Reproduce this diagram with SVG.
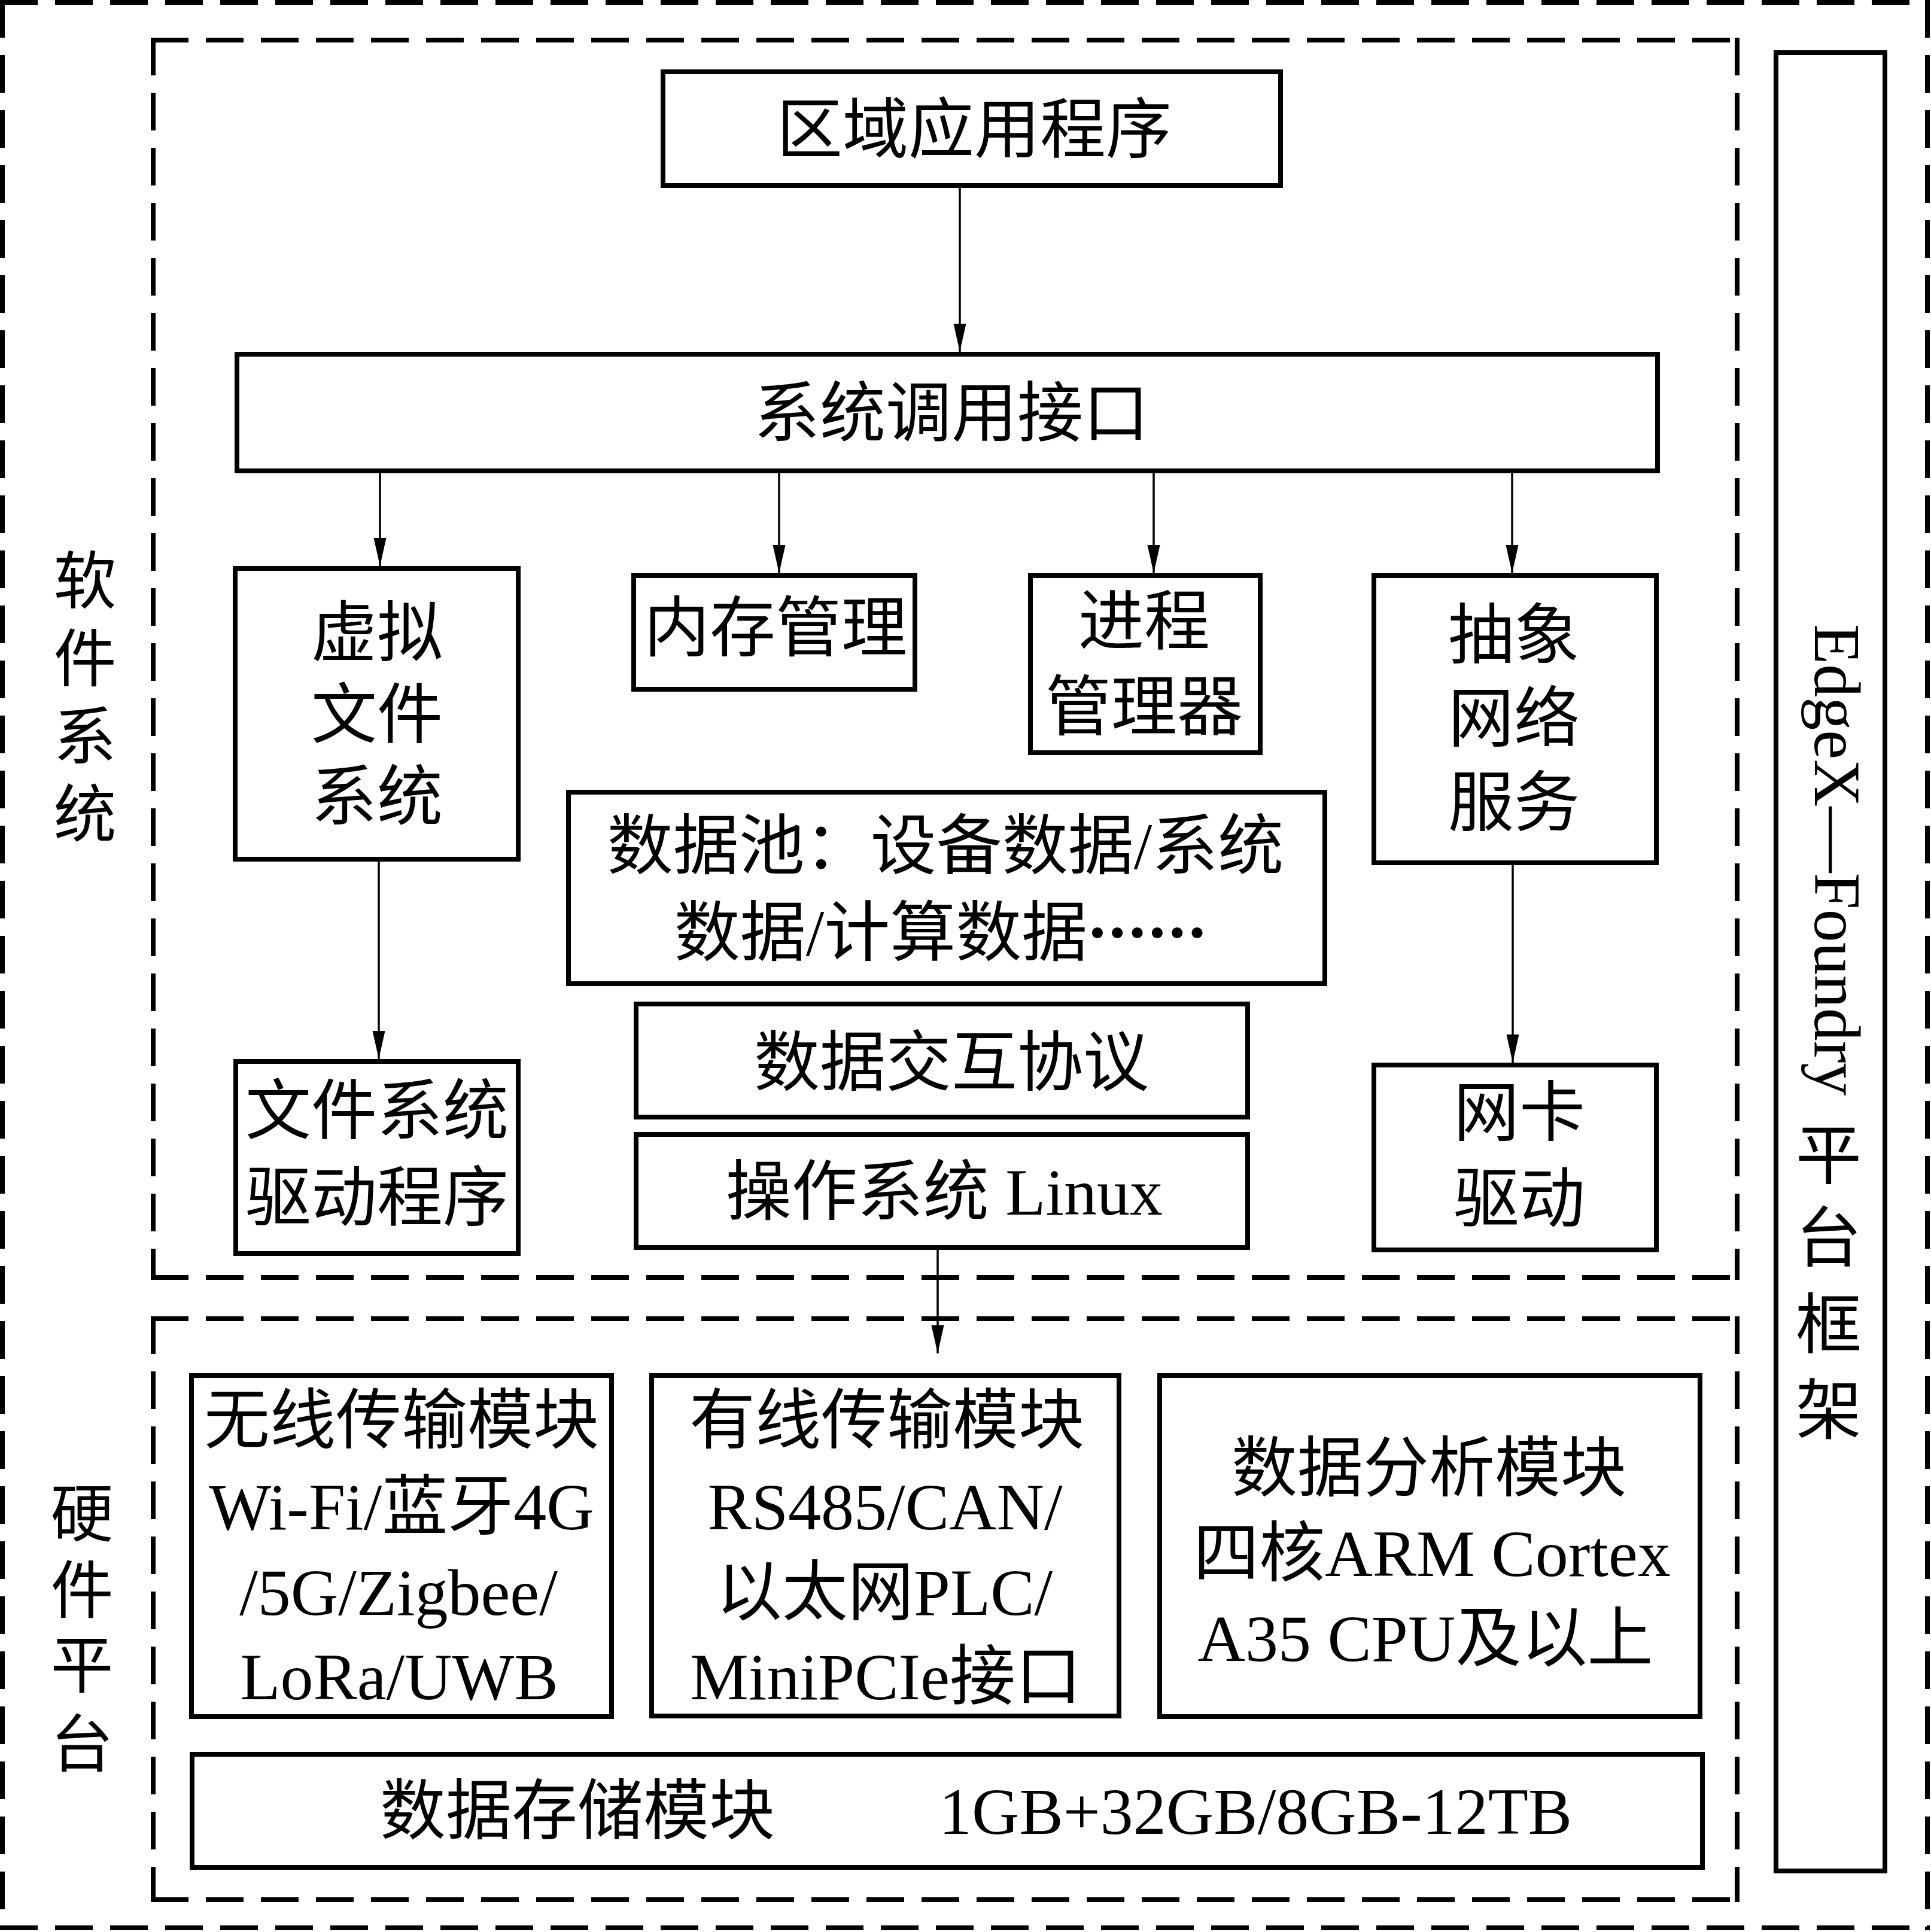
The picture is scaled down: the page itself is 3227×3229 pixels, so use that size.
<svg xmlns="http://www.w3.org/2000/svg" width="3227" height="3229" viewBox="0 0 3227 3229">
<defs>
<style>
.box{fill:none;stroke:#000;stroke-width:8}
.dash{fill:none;stroke:#000;stroke-width:8;stroke-dasharray:63 29;stroke-linecap:butt}
.conn{fill:none;stroke:#000;stroke-width:3.5;marker-end:url(#arr)}
.t{font-family:"Liberation Serif","Noto Sans CJK SC",serif;font-size:110px;text-anchor:middle;fill:#000}
.side{font-size:105px}
.cjk{font-family:"Noto Sans CJK SC",sans-serif;font-weight:900}
</style>
<marker id="arr" markerUnits="userSpaceOnUse" markerWidth="48" markerHeight="22" refX="47" refY="10.5" orient="auto">
<path d="M0,0 L47,10.5 L0,21 Z" fill="#000"/>
</marker>
</defs>
<rect width="3227" height="3229" fill="#fff"/>

<g id="frames">
<g id="outer">
<line class="dash" x1="0" y1="4" x2="3225" y2="4"/>
<line class="dash" x1="0" y1="3222" x2="3225" y2="3222"/>
<line class="dash" x1="4" y1="0" x2="4" y2="3226"/>
<line class="dash" x1="3221" y1="0" x2="3221" y2="3226"/>
</g>
<g id="software-frame">
<line class="dash" x1="252" y1="67" x2="2907" y2="67"/>
<line class="dash" x1="252" y1="2135" x2="2907" y2="2135"/>
<line class="dash" x1="256" y1="63" x2="256" y2="2139"/>
<line class="dash" x1="2903" y1="63" x2="2903" y2="2139"/>
</g>
<g id="hardware-frame">
<line class="dash" x1="252" y1="2204" x2="2907" y2="2204"/>
<line class="dash" x1="252" y1="3175" x2="2907" y2="3175"/>
<line class="dash" x1="256" y1="2200" x2="256" y2="3179"/>
<line class="dash" x1="2903" y1="2200" x2="2903" y2="3179"/>
</g>
</g>

<g id="label-software">
<text class="t side" x="142" y="1008">软</text>
<text class="t side" x="142" y="1138">件</text>
<text class="t side" x="142" y="1268">系</text>
<text class="t side" x="142" y="1398">统</text>
</g>
<g id="label-hardware">
<text class="t side" x="137" y="2567">硬</text>
<text class="t side" x="137" y="2695">件</text>
<text class="t side" x="137" y="2820">平</text>
<text class="t side" x="137" y="2952">台</text>
</g>

<g id="edgex">
<rect class="box" x="2968" y="88" width="182" height="3039"/>
<text class="t" style="text-anchor:start" font-size="112" transform="translate(3033,1043) rotate(90)">EdgeX—Foundry</text>
<text class="t" x="3056" y="1970">平</text>
<text class="t" x="3056" y="2108">台</text>
<text class="t" x="3056" y="2253">框</text>
<text class="t" x="3056" y="2396">架</text>
</g>

<g id="app">
<rect class="box" x="1108" y="120" width="1032" height="190"/>
<text class="t" x="1628" y="255">区域应用程序</text>
</g>
<g id="syscall">
<rect class="box" x="396" y="592" width="2374" height="195"/>
<text class="t" x="1590" y="729">系统调用接口</text>
</g>
<g id="vfs">
<rect class="box" x="393" y="950" width="473" height="486"/>
<text class="t" x="630" y="1096">虚拟</text>
<text class="t" x="630" y="1233">文件</text>
<text class="t" x="630" y="1370">系统</text>
</g>
<g id="mem">
<rect class="box" x="1059" y="962" width="470" height="190"/>
<text class="t" x="1296" y="1088">内存管理</text>
</g>
<g id="proc">
<rect class="box" x="1722" y="962" width="384" height="296"/>
<text class="t" x="1912" y="1077">进程</text>
<text class="t" x="1912" y="1220">管理器</text>
</g>
<g id="net">
<rect class="box" x="2296" y="962" width="472" height="480"/>
<text class="t" x="2530" y="1100">抽象</text>
<text class="t" x="2530" y="1239">网络</text>
<text class="t" x="2530" y="1380">服务</text>
</g>
<g id="datapool">
<rect class="box" x="950" y="1324" width="1264" height="320"/>
<text class="t" x="1580" y="1452">数据池：设备数据/系统</text>
<text class="t" x="1572" y="1597">数据/计算数据<tspan class="cjk" font-size="100">……</tspan></text>
</g>
<g id="protocol">
<rect class="box" x="1063" y="1678" width="1022" height="189"/>
<text class="t" x="1590" y="1814">数据交互协议</text>
</g>
<g id="os">
<rect class="box" x="1063" y="1896" width="1022" height="189"/>
<text class="t" x="1578" y="2030">操作系统 Linux</text>
</g>
<g id="fsdriver">
<rect class="box" x="394" y="1774" width="472" height="321"/>
<text class="t" x="630" y="1895">文件系统</text>
<text class="t" x="630" y="2040">驱动程序</text>
</g>
<g id="nicdriver">
<rect class="box" x="2296" y="1780" width="472" height="309"/>
<text class="t" x="2539" y="1898">网卡</text>
<text class="t" x="2539" y="2042">驱动</text>
</g>

<g id="wireless">
<rect class="box" x="320" y="2299" width="702" height="570"/>
<text class="t" x="671" y="2412">无线传输模块</text>
<text class="t" x="671" y="2556">Wi-Fi/蓝牙4G</text>
<text class="t" x="666" y="2699">/5G/Zigbee/</text>
<text class="t" x="667" y="2840">LoRa/UWB</text>
</g>
<g id="wired">
<rect class="box" x="1089" y="2299" width="781" height="569"/>
<text class="t" x="1482" y="2412">有线传输模块</text>
<text class="t" x="1479" y="2556">RS485/CAN/</text>
<text class="t" x="1478" y="2699">以太网PLC/</text>
<text class="t" x="1480" y="2840">MiniPCIe接口</text>
</g>
<g id="analysis">
<rect class="box" x="1938" y="2299" width="903" height="570"/>
<text class="t" x="2388" y="2492">数据分析模块</text>
<text class="t" x="2393" y="2634">四核ARM Cortex</text>
<text class="t" x="2382" y="2776">A35 CPU及以上</text>
</g>
<g id="storage">
<rect class="box" x="321" y="2932" width="2524" height="189"/>
<text class="t" style="text-anchor:start" y="3065"><tspan x="635">数据存储模块</tspan><tspan x="1569">1GB+32GB/8GB-12TB</tspan></text>
</g>

<g id="connectors">
<line class="conn" x1="1604" y1="314" x2="1604" y2="588"/>
<line class="conn" x1="635" y1="791" x2="635" y2="946"/>
<line class="conn" x1="1302" y1="791" x2="1302" y2="958"/>
<line class="conn" x1="1928" y1="791" x2="1928" y2="958"/>
<line class="conn" x1="2527" y1="791" x2="2527" y2="958"/>
<line class="conn" x1="633" y1="1440" x2="633" y2="1770"/>
<line class="conn" x1="2528" y1="1446" x2="2528" y2="1776"/>
<line class="conn" x1="1567" y1="2089" x2="1567" y2="2262"/>
</g>
</svg>
